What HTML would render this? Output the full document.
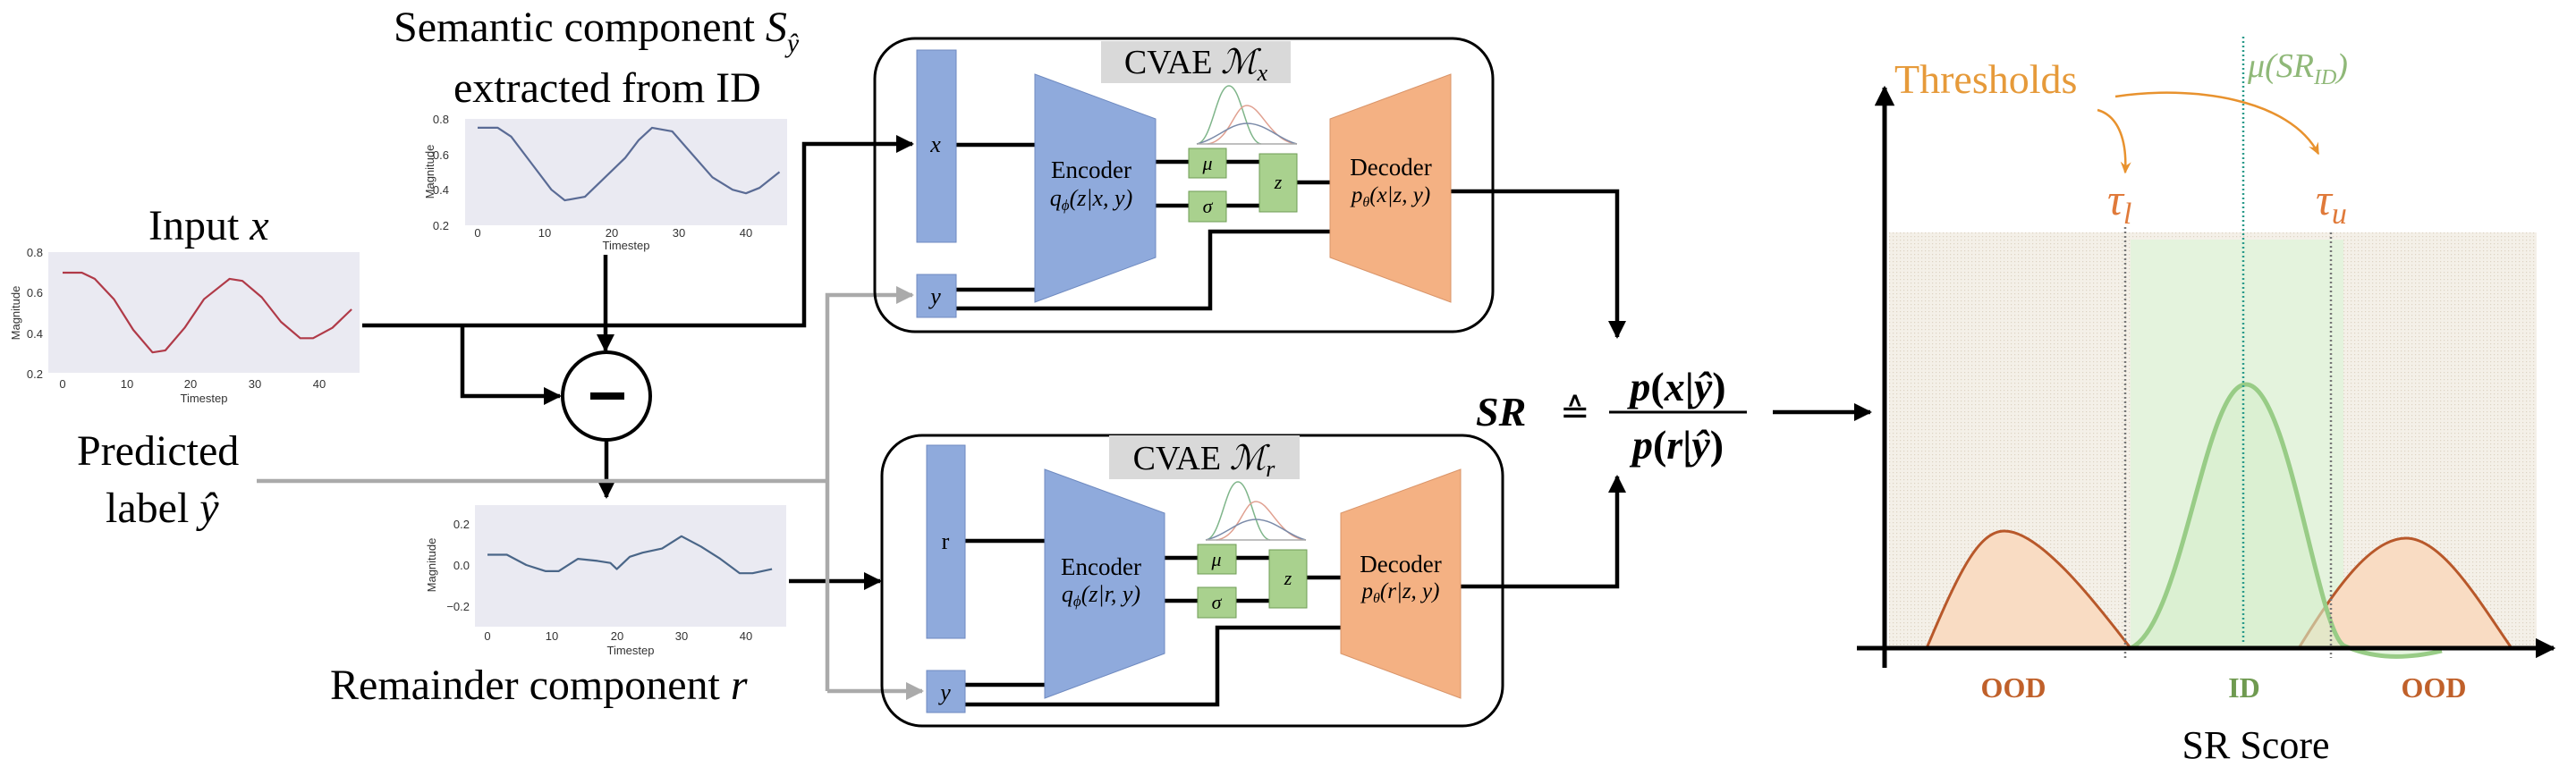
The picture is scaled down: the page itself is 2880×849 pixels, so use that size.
<!DOCTYPE html>
<html><head><meta charset="utf-8"><style>
html,body{margin:0;padding:0;background:#fff;}
svg{display:block;font-family:"Liberation Serif",serif;}
text{font-family:"Liberation Serif",serif;}
text.ax{font-family:"Liberation Sans",sans-serif;font-size:13px;fill:#333;}
</style></head><body>
<svg width="2880" height="849" viewBox="0 0 2880 849" xmlns="http://www.w3.org/2000/svg" font-family="Liberation Serif, serif">
<defs>
<marker id="ab" viewBox="0 0 10 10" refX="9" refY="5" markerWidth="4.5" markerHeight="4.5" orient="auto"><path d="M0,0 L10,5 L0,10 z" fill="#000"/></marker>
<marker id="ag" viewBox="0 0 10 10" refX="9" refY="5" markerWidth="4.5" markerHeight="4.5" orient="auto"><path d="M0,0 L10,5 L0,10 z" fill="#aaa"/></marker>
<marker id="ao" viewBox="0 0 10 10" refX="8" refY="5" markerWidth="6" markerHeight="6" orient="auto"><path d="M0,1 L9,5 L0,9 L3,5 z" fill="#e8922e"/></marker>
<pattern id="dots" width="4" height="4" patternUnits="userSpaceOnUse"><rect width="4" height="4" fill="#f4f0e8"/><rect width="1.2" height="1.2" fill="#ddd3c3"/></pattern>
</defs>

<text x="440" y="46" font-size="48">Semantic component <tspan font-style="italic">S</tspan><tspan font-style="italic" font-size="30" dy="12">ŷ</tspan></text>
<text x="507" y="114" font-size="48">extracted from ID</text>

<rect x="520" y="133" width="360" height="119" fill="#eaeaf2"/>
<text class="ax" x="502" y="138" text-anchor="end">0.8</text>
<text class="ax" x="502" y="178" text-anchor="end">0.6</text>
<text class="ax" x="502" y="217" text-anchor="end">0.4</text>
<text class="ax" x="502" y="257" text-anchor="end">0.2</text>
<text class="ax" x="534" y="265" text-anchor="middle">0</text><text class="ax" x="609" y="265" text-anchor="middle">10</text><text class="ax" x="684" y="265" text-anchor="middle">20</text><text class="ax" x="759" y="265" text-anchor="middle">30</text><text class="ax" x="834" y="265" text-anchor="middle">40</text>
<text class="ax" x="700" y="279" text-anchor="middle">Timestep</text>
<text class="ax" transform="translate(485,192) rotate(-90)" text-anchor="middle">Magnitude</text>
<polyline fill="none" stroke="#5a6b95" stroke-width="2.2" stroke-linejoin="round" points="534,142.9 556.5,142.9 571.5,152.8 594,182.5 616.5,212.2 631.5,224.1 654,220.1 676.5,198.3 699,176.6 714,156.8 729,142.9 751.5,146.9 774,172.6 796.5,198.3 819,212.2 834,216.2 849,210.2 871.5,192.4"/>

<text x="166" y="268" font-size="48">Input <tspan font-style="italic">x</tspan></text>
<rect x="54" y="282" width="348" height="135" fill="#eaeaf2"/>
<text class="ax" x="48" y="287" text-anchor="end">0.8</text>
<text class="ax" x="48" y="332" text-anchor="end">0.6</text>
<text class="ax" x="48" y="378" text-anchor="end">0.4</text>
<text class="ax" x="48" y="423" text-anchor="end">0.2</text>
<text class="ax" x="70" y="434" text-anchor="middle">0</text><text class="ax" x="142" y="434" text-anchor="middle">10</text><text class="ax" x="213" y="434" text-anchor="middle">20</text><text class="ax" x="285" y="434" text-anchor="middle">30</text><text class="ax" x="357" y="434" text-anchor="middle">40</text>
<text class="ax" x="228" y="450" text-anchor="middle">Timestep</text>
<text class="ax" transform="translate(22,350) rotate(-90)" text-anchor="middle">Magnitude</text>
<polyline fill="none" stroke="#b03a48" stroke-width="2.2" stroke-linejoin="round" points="70,305 91.5,305 105.9,311.9 127.4,334.7 149,369 170.5,394.2 184.9,391.9 206.4,366.7 228,334.7 256.7,311.9 271,314.2 292.6,332.5 314.1,360 335.7,378.3 350,378.3 371.6,366.7 393.1,346"/>

<rect x="531" y="565" width="348" height="136" fill="#eaeaf2"/>
<text class="ax" x="525" y="591" text-anchor="end">0.2</text>
<text class="ax" x="525" y="637" text-anchor="end">0.0</text>
<text class="ax" x="525" y="683" text-anchor="end">−0.2</text>
<text class="ax" x="545" y="716" text-anchor="middle">0</text><text class="ax" x="617" y="716" text-anchor="middle">10</text><text class="ax" x="690" y="716" text-anchor="middle">20</text><text class="ax" x="762" y="716" text-anchor="middle">30</text><text class="ax" x="834" y="716" text-anchor="middle">40</text>
<text class="ax" x="705" y="732" text-anchor="middle">Timestep</text>
<text class="ax" transform="translate(487,632) rotate(-90)" text-anchor="middle">Magnitude</text>
<polyline fill="none" stroke="#4a6688" stroke-width="2.2" stroke-linejoin="round" points="545,620.5 566.7,620.5 588.4,632 610.1,638.9 624.5,638.9 646.2,625.1 667.9,627.4 682.4,629.7 689.6,636.6 704.1,622.8 718.5,618.2 740.2,613.6 761.9,599.8 783.6,611.3 805.3,625.1 827,641.2 841.4,641.2 863.1,636.6"/>
<text x="369" y="782" font-size="48">Remainder component <tspan font-style="italic">r</tspan></text>

<text x="86" y="520" font-size="48">Predicted</text>
<text x="118" y="584" font-size="48">label <tspan font-style="italic">ŷ</tspan></text>

<g stroke="#000" stroke-width="4.5" fill="none">
<polyline points="405,364 899,364 899,161 1020,161" marker-end="url(#ab)"/>
<polyline points="517,364 517,443 626,443" marker-end="url(#ab)"/>
<line x1="677" y1="285" x2="677" y2="392" marker-end="url(#ab)"/>
<line x1="678" y1="492" x2="678" y2="556" marker-end="url(#ab)"/>
<line x1="882" y1="650" x2="984" y2="650" marker-end="url(#ab)"/>
</g>
<ellipse cx="678" cy="443" rx="49" ry="49" fill="#fff" stroke="#000" stroke-width="4"/>
<rect x="660" y="439" width="38" height="8" fill="#000"/>
<g stroke="#aaa" stroke-width="4.5" fill="none">
<polyline points="287,538 925,538"/>
<polyline points="925,773 925,330 1020,330" marker-end="url(#ag)"/>
<polyline points="925,773 1031,773" marker-end="url(#ag)"/>
</g>

<rect x="978" y="43" width="691" height="328" rx="45" fill="none" stroke="#000" stroke-width="3"/>
<rect x="1231" y="46" width="212" height="47" fill="#d9d9d9"/>
<text x="1337" y="82" font-size="38" text-anchor="middle">CVAE <tspan font-style="italic">ℳ</tspan><tspan font-style="italic" font-size="26" dy="8">x</tspan></text>
<g stroke="#000" stroke-width="4.5" fill="none">
<line x1="1069" y1="162" x2="1157" y2="162"/>
<line x1="1292" y1="181" x2="1408" y2="181"/>
<line x1="1292" y1="230" x2="1408" y2="230"/>
<line x1="1450" y1="204" x2="1487" y2="204"/>
<line x1="1069" y1="324" x2="1157" y2="324"/>
<polyline points="1069,345 1353,345 1353,259 1487,259"/>
<polyline points="1613,214 1808,214 1808,377" marker-end="url(#ab)"/>
</g>
<rect x="1025" y="56" width="44" height="215" fill="#8faadc" stroke="#6f8ac0" stroke-width="1"/>
<rect x="1025" y="307" width="44" height="48" fill="#8faadc" stroke="#6f8ac0" stroke-width="1"/>
<polygon points="1157,83 1292,133 1292,288 1157,338" fill="#8faadc" stroke="#6f8ac0"/>
<polygon points="1487,133 1622,83 1622,338 1487,288" fill="#f4b183" stroke="#d9956a"/>
<rect x="1329" y="166" width="42" height="33" fill="#a9d18e" stroke="#6f9c56"/>
<rect x="1329" y="214" width="42" height="34" fill="#a9d18e" stroke="#6f9c56"/>
<rect x="1408" y="172" width="42" height="65" fill="#a9d18e" stroke="#6f9c56"/>
<text x="1046" y="170" font-size="26" font-style="italic" text-anchor="middle">x</text>
<text x="1046" y="340" font-size="26" font-style="italic" text-anchor="middle">y</text>
<text x="1350" y="190" font-size="22" font-style="italic" text-anchor="middle">μ</text>
<text x="1350" y="238" font-size="22" font-style="italic" text-anchor="middle">σ</text>
<text x="1429" y="211" font-size="22" font-style="italic" text-anchor="middle">z</text>
<text x="1220" y="199" font-size="27" text-anchor="middle">Encoder</text>
<text x="1220" y="230" font-size="26" text-anchor="middle" font-style="italic">q<tspan font-size="17" dy="5">ϕ</tspan><tspan dy="-5">(z|x, y)</tspan></text>
<text x="1555" y="196" font-size="27" text-anchor="middle">Decoder</text>
<text x="1555" y="226" font-size="25" text-anchor="middle" font-style="italic">p<tspan font-size="16" dy="5">θ</tspan><tspan dy="-5">(x|z, y)</tspan></text>
<g fill="none" stroke-width="1.5">
<path d="M1338,161 C1355,160 1360,96 1374,96 C1388,96 1393,160 1410,161" stroke="#7fb58a"/>
<path d="M1350,161 C1375,158 1380,118 1394,118 C1410,118 1420,158 1450,161" stroke="#e0a090"/>
<path d="M1338,161 C1360,156 1375,138 1394,138 C1415,138 1430,156 1450,161" stroke="#7a8aa8"/>
<line x1="1338" y1="161" x2="1450" y2="161" stroke="#aaa"/>
</g>

<rect x="986" y="487" width="694" height="325" rx="45" fill="none" stroke="#000" stroke-width="3"/>
<rect x="1240" y="487" width="213" height="49" fill="#d9d9d9"/>
<text x="1346" y="525" font-size="38" text-anchor="middle">CVAE <tspan font-style="italic">ℳ</tspan><tspan font-style="italic" font-size="26" dy="8">r</tspan></text>
<g stroke="#000" stroke-width="4.5" fill="none">
<line x1="1079" y1="605" x2="1168" y2="605"/>
<line x1="1302" y1="624" x2="1419" y2="624"/>
<line x1="1302" y1="672" x2="1419" y2="672"/>
<line x1="1461" y1="646" x2="1499" y2="646"/>
<line x1="1079" y1="766" x2="1168" y2="766"/>
<polyline points="1079,788 1361,788 1361,702 1499,702"/>
<polyline points="1628,656 1808,656 1808,533" marker-end="url(#ab)"/>
</g>
<rect x="1036" y="498" width="43" height="216" fill="#8faadc" stroke="#6f8ac0"/>
<rect x="1036" y="750" width="43" height="47" fill="#8faadc" stroke="#6f8ac0"/>
<polygon points="1168,525 1302,574 1302,731 1168,781" fill="#8faadc" stroke="#6f8ac0"/>
<polygon points="1499,574 1633,525 1633,781 1499,731" fill="#f4b183" stroke="#d9956a"/>
<rect x="1339" y="609" width="43" height="33" fill="#a9d18e" stroke="#6f9c56"/>
<rect x="1339" y="657" width="43" height="34" fill="#a9d18e" stroke="#6f9c56"/>
<rect x="1419" y="615" width="42" height="65" fill="#a9d18e" stroke="#6f9c56"/>
<text x="1057" y="614" font-size="26" text-anchor="middle">r</text>
<text x="1057" y="783" font-size="26" font-style="italic" text-anchor="middle">y</text>
<text x="1360" y="633" font-size="22" font-style="italic" text-anchor="middle">μ</text>
<text x="1360" y="681" font-size="22" font-style="italic" text-anchor="middle">σ</text>
<text x="1440" y="654" font-size="22" font-style="italic" text-anchor="middle">z</text>
<text x="1231" y="643" font-size="27" text-anchor="middle">Encoder</text>
<text x="1231" y="673" font-size="26" text-anchor="middle" font-style="italic">q<tspan font-size="17" dy="5">ϕ</tspan><tspan dy="-5">(z|r, y)</tspan></text>
<text x="1566" y="640" font-size="27" text-anchor="middle">Decoder</text>
<text x="1566" y="669" font-size="25" text-anchor="middle" font-style="italic">p<tspan font-size="16" dy="5">θ</tspan><tspan dy="-5">(r|z, y)</tspan></text>
<g fill="none" stroke-width="1.5">
<path d="M1348,604 C1365,603 1370,539 1384,539 C1398,539 1403,603 1420,604" stroke="#7fb58a"/>
<path d="M1360,604 C1385,601 1390,561 1404,561 C1420,561 1430,601 1460,604" stroke="#e0a090"/>
<path d="M1348,604 C1370,599 1385,581 1404,581 C1425,581 1440,599 1460,604" stroke="#7a8aa8"/>
<line x1="1348" y1="604" x2="1460" y2="604" stroke="#aaa"/>
</g>

<text x="1650" y="476" font-size="46" font-weight="bold" font-style="italic">SR</text>
<text x="1744" y="474" font-size="40">≙</text>
<text x="1876" y="448" font-size="46" font-weight="bold" text-anchor="middle"><tspan font-style="italic">p</tspan>(<tspan font-style="italic">x</tspan>|<tspan font-style="italic">ŷ</tspan>)</text>
<line x1="1799" y1="461" x2="1953" y2="461" stroke="#000" stroke-width="3"/>
<text x="1876" y="513" font-size="46" font-weight="bold" text-anchor="middle"><tspan font-style="italic">p</tspan>(<tspan font-style="italic">r</tspan>|<tspan font-style="italic">ŷ</tspan>)</text>
<line x1="1982" y1="461" x2="2091" y2="461" stroke="#000" stroke-width="4.5" marker-end="url(#ab)"/>

<rect x="2112" y="260" width="724" height="465" fill="url(#dots)"/>
<rect x="2382" y="268" width="238" height="457" fill="#e4f3dd"/>
<path d="M2154,725 C2190,640 2212,594 2241,594 C2280,594 2340,670 2382,725 Z" fill="#f9dcc3" stroke="#b8582a" stroke-width="3"/>
<path d="M2570,725 C2610,660 2650,602 2690,602 C2730,602 2770,670 2808,725 Z" fill="#f9dcc3" stroke="#b8582a" stroke-width="3"/>
<path d="M2382,725 C2440,700 2465,430 2511,430 C2558,430 2590,700 2620,722 C2660,740 2700,735 2730,728" fill="#d6efcc" fill-opacity="0.6" stroke="#98cc86" stroke-width="5"/>
<line x1="2376" y1="254" x2="2376" y2="736" stroke="#777" stroke-width="2.5" stroke-dasharray="2,3"/>
<line x1="2606" y1="260" x2="2606" y2="736" stroke="#777" stroke-width="2.5" stroke-dasharray="2,3"/>
<line x1="2508" y1="41" x2="2508" y2="720" stroke="#2a9a8a" stroke-width="2.5" stroke-dasharray="2,3"/>
<line x1="2107" y1="747" x2="2107" y2="98" stroke="#000" stroke-width="5" marker-end="url(#ab)"/>
<line x1="2076" y1="725" x2="2855" y2="725" stroke="#000" stroke-width="5" marker-end="url(#ab)"/>
<text x="2118" y="104" font-size="46" fill="#e69a3a">Thresholds</text>
<path d="M2345,123 C2370,130 2378,160 2376,193" fill="none" stroke="#e8922e" stroke-width="2.5" marker-end="url(#ao)"/>
<path d="M2365,108 C2450,95 2560,110 2592,172" fill="none" stroke="#e8922e" stroke-width="2.5" marker-end="url(#ao)"/>
<text x="2356" y="240" font-size="50" font-style="italic" fill="#e07a3a">τ<tspan font-size="34" dy="10">l</tspan></text>
<text x="2589" y="240" font-size="50" font-style="italic" fill="#e07a3a">τ<tspan font-size="34" dy="10">u</tspan></text>
<text x="2513" y="86" font-size="38" font-style="italic" fill="#8fb878">μ(SR<tspan font-size="24" dy="8">ID</tspan><tspan dy="-8">)</tspan></text>
<text x="2251" y="780" font-size="32" font-weight="bold" fill="#c0602a" text-anchor="middle">OOD</text>
<text x="2509" y="780" font-size="32" font-weight="bold" fill="#6f9a50" text-anchor="middle">ID</text>
<text x="2721" y="780" font-size="32" font-weight="bold" fill="#c0602a" text-anchor="middle">OOD</text>
<text x="2522" y="848" font-size="44" text-anchor="middle">SR Score</text>
</svg>
</body></html>
